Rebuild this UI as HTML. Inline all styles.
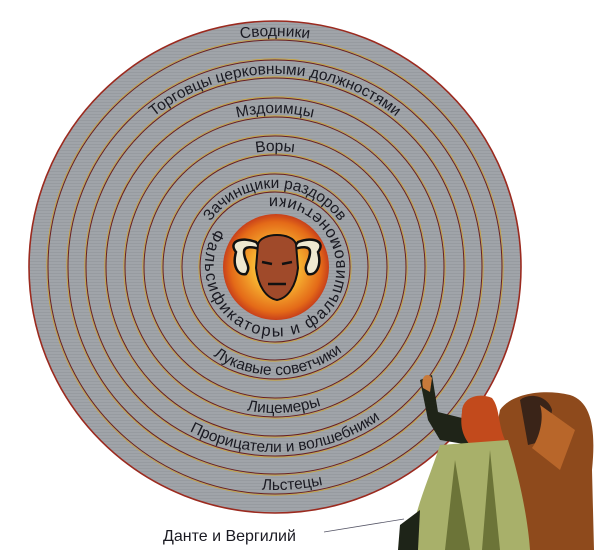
<!DOCTYPE html>
<html><head><meta charset="utf-8"><style>
html,body{margin:0;padding:0;background:#fff;width:600px;height:550px;overflow:hidden}
svg text{font-family:"Liberation Sans","DejaVu Sans",sans-serif;fill:#1a1a22}
</style></head><body>
<svg width="600" height="550" viewBox="0 0 600 550" xmlns="http://www.w3.org/2000/svg">
<defs>
<pattern id="tex" width="4" height="3" patternUnits="userSpaceOnUse">
<rect width="4" height="3" fill="#a0a4a9"/><rect y="0" width="4" height="1" fill="#979ba0"/>
</pattern>
<radialGradient id="og" cx="50%" cy="50%" r="50%">
<stop offset="0" stop-color="#fff07a"/><stop offset="0.45" stop-color="#f6b030"/><stop offset="0.85" stop-color="#e46a18"/><stop offset="1" stop-color="#c8401a"/>
</radialGradient>
<path id="t1" d="M44 267 A231 231 0 0 1 506 267"/>
<path id="t2" d="M82 267 A193 193 0 0 1 468 267"/>
<path id="t3" d="M121 267 A154 154 0 0 1 429 267"/>
<path id="t4" d="M159 267 A116 116 0 0 1 391 267"/>
<path id="t5" d="M196 267 A79 79 0 0 1 354 267"/>
<path id="b1" d="M52 267 A223 223 0 0 0 498 267"/>
<path id="b2" d="M90 267 A185 185 0 0 0 460 267"/>
<path id="b3" d="M129 267 A146 146 0 0 0 421 267"/>
<path id="b4" d="M167 267 A108 108 0 0 0 383 267"/>
<path id="in" d="M215.5 228.3 A71 71 0 0 0 334.5 305.7 A71 71 0 0 0 215.5 228.3"/>
</defs>
<circle cx="275" cy="267" r="246" fill="url(#tex)" stroke="#9b2a1f" stroke-width="1.6"/>
<g fill="none">
<g stroke="#c9a43a" stroke-width="0.8">
<circle cx="275" cy="267" r="228.2"/><circle cx="275" cy="267" r="208.2"/><circle cx="275" cy="267" r="190.2"/><circle cx="275" cy="267" r="170.2"/><circle cx="275" cy="267" r="151.2"/><circle cx="275" cy="267" r="132.2"/><circle cx="275" cy="267" r="113.2"/><circle cx="275" cy="267" r="94.2"/><circle cx="275" cy="267" r="76.2"/>
</g>
<g stroke="#6a2020" stroke-width="1">
<circle cx="275" cy="267" r="227"/><circle cx="275" cy="267" r="207"/><circle cx="275" cy="267" r="189"/><circle cx="275" cy="267" r="169"/><circle cx="275" cy="267" r="150"/><circle cx="275" cy="267" r="131"/><circle cx="275" cy="267" r="112"/><circle cx="275" cy="267" r="93"/><circle cx="275" cy="267" r="75"/>
</g>
</g>
<circle cx="276" cy="267" r="53" fill="url(#og)"/>
<g>
<path d="M236 252 C228 242 240 236 256 242 L262 250 C252 246 244 246 244 252 C244 262 252 266 246 274 C238 276 232 266 236 252Z" fill="#efe8d0" stroke="#111" stroke-width="2.5"/>
<path d="M318 252 C326 242 314 236 298 242 L292 250 C302 246 310 246 310 252 C310 262 302 266 308 274 C316 276 322 266 318 252Z" fill="#efe8d0" stroke="#111" stroke-width="2.5"/>
<path d="M258 244 C262 232 292 232 296 244 L298 268 C296 286 288 298 277 300 C266 298 258 286 256 268Z" fill="#a04a2a" stroke="#111" stroke-width="2"/>
<path d="M262 262 L272 264 M282 264 L292 262 M268 284 L286 284" stroke="#111" stroke-width="2.5"/>
</g>
<g font-size="15.5">
<text><textPath href="#t1" startOffset="50%" text-anchor="middle">Сводники</textPath></text>
<text><textPath href="#t2" startOffset="50%" text-anchor="middle">Торговцы церковными должностями</textPath></text>
<text><textPath href="#t3" startOffset="50%" text-anchor="middle">Мздоимцы</textPath></text>
<text><textPath href="#t4" startOffset="50%" text-anchor="middle">Воры</textPath></text>
<text><textPath href="#t5" startOffset="50%" text-anchor="middle">Зачинщики раздоров</textPath></text>
<text><textPath href="#b1" startOffset="52.5%" text-anchor="middle">Льстецы</textPath></text>
<text><textPath href="#b2" startOffset="52%" text-anchor="middle">Прорицатели и волшебники</textPath></text>
<text><textPath href="#b3" startOffset="52%" text-anchor="middle">Лицемеры</textPath></text>
<text><textPath href="#b4" startOffset="51%" text-anchor="middle">Лукавые советчики</textPath></text>
</g>
<text font-size="16.5"><textPath href="#in" startOffset="0" textLength="375" lengthAdjust="spacing">Фальсификаторы и фальшивомонетчики</textPath></text>
<g>
<path d="M500 410 C510 395 540 388 570 395 C592 402 596 430 592 470 L594 550 L495 550 C492 520 488 470 500 410Z" fill="#8e4a1c"/>
<path d="M520 400 C530 392 548 396 552 410 L548 440 L528 445Z" fill="#3a2418"/>
<path d="M540 405 C545 420 538 440 532 448 L560 470 L575 430Z" fill="#b8662a"/>
<path d="M420 380 L432 375 L438 412 L470 420 L470 445 L440 440 L428 420Z" fill="#1f2418"/>
<path d="M423 388 C420 375 428 372 432 378 L430 392Z" fill="#c87a3a"/>
<path d="M462 412 C462 398 478 392 492 398 C500 408 498 425 505 440 L470 445 C462 435 460 425 462 412Z" fill="#c24a1c"/>
<path d="M440 445 L508 440 C520 480 528 520 530 550 L412 550 C410 520 425 490 440 445Z" fill="#a8b06a"/>
<path d="M455 460 L470 550 L445 550Z M490 450 L500 550 L482 550Z" fill="#6c7438"/>
<path d="M400 525 L420 510 L418 550 L398 550Z" fill="#1e2418"/>
</g>
<line x1="324" y1="532" x2="404" y2="519" stroke="#556" stroke-width="0.8"/>
<text x="163" y="541" font-size="16">Данте и Вергилий</text>
</svg>
</body></html>
